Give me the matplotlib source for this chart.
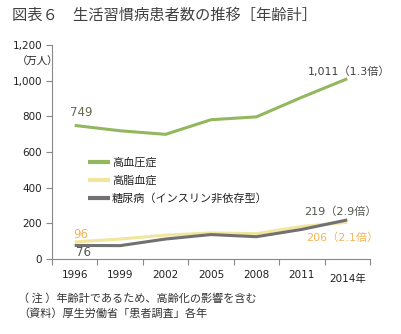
import numpy as np
import matplotlib
matplotlib.use("Agg")
import matplotlib.pyplot as plt

plt.rcParams['font.family'] = ['DejaVu Sans', 'Noto Sans CJK JP']

# データ（万人）
years = ['1996', '1999', '2002', '2005', '2008', '2011', '2014年']
hypertension = [749, 719, 699, 781, 797, 907, 1011]
hyperlipidemia = [96, 112, 134, 146, 142, 183, 206]
diabetes = [76, 75, 112, 137, 125, 166, 219]
series_names = ['高血圧症', '高脂血症', '糖尿病（インスリン非依存型）']
yticks = [0, 200, 400, 600, 800, 1000, 1200]

c_green = '#93b75f'
c_yellow = '#f1e69c'
c_gray = '#717171'
c_text = '#404040'
c_orange = '#f2b55a'

fig = plt.figure(figsize=(4.01, 3.34), dpi=100)
ax = fig.add_axes([52/401, 1-259/334, (370-52)/401, (259-45)/334])

x = np.arange(len(years))
ax.plot(x, hypertension, color=c_green, lw=2.2, label=series_names[0], solid_capstyle='butt')
ax.plot(x, hyperlipidemia, color=c_yellow, lw=2.2, label=series_names[1], solid_capstyle='butt')
ax.plot(x, diabetes, color=c_gray, lw=2.2, label=series_names[2], solid_capstyle='butt')

ax.set_xlim(-0.5, len(years) - 0.5)
ax.set_ylim(0, 1200)
ax.set_yticks(yticks)
ax.set_yticklabels([f"{v:,}" for v in yticks], fontsize=7.5, color='#222222')

# 区切り目盛りとカテゴリ中央のラベル
ax.set_xticks(np.arange(-0.5, len(years)), labels=[''] * (len(years) + 1))
ax.set_xticks(x, minor=True)
ax.set_xticklabels(years, minor=True, fontsize=7.5, color='#222222')
ax.tick_params(axis='x', which='minor', length=0, pad=8)
ax.tick_params(axis='x', which='major', length=4, color='#888888')
ax.tick_params(axis='y', length=4, color='#888888', pad=3)
for lab in ax.get_xticklabels(minor=True):
    if '年' in lab.get_text():
        lab.set_y(-0.02)

for s in ['top', 'right']:
    ax.spines[s].set_visible(False)
for s in ['left', 'bottom']:
    ax.spines[s].set_color('#888888')
    ax.spines[s].set_linewidth(0.8)

# データラベル
ax.annotate('749', (0, hypertension[0]), xytext=(5, 9.5), textcoords='offset points',
            ha='center', va='center', fontsize=8.5, color='#5f6b48')
ax.annotate('1,011（1.3倍）', (6, hypertension[6]), xytext=(1, 5), textcoords='offset points',
            ha='center', va='center', fontsize=8, color=c_text)
ax.annotate('219（2.9倍）', (6, diabetes[6]), xytext=(-5, 6), textcoords='offset points',
            ha='center', va='center', fontsize=8, color='#505a50')
ax.annotate('206（2.1倍）', (6, hyperlipidemia[6]), xytext=(-3.6, -11), textcoords='offset points',
            ha='center', va='center', fontsize=8, color=c_orange)
ax.annotate('96', (0, hyperlipidemia[0]), xytext=(4.7, 5), textcoords='offset points',
            ha='center', va='center', fontsize=8.5, color=c_orange)
ax.annotate('76', (0, diabetes[0]), xytext=(6.5, -5), textcoords='offset points',
            ha='center', va='center', fontsize=8.5, color='#505a50')

leg = ax.legend(loc='upper left', bbox_to_anchor=(88/401, 1-157/334), bbox_transform=fig.transFigure,
                frameon=False, fontsize=8, handlelength=2.0, handletextpad=0.15,
                labelspacing=0.7, borderpad=0, borderaxespad=0)
for line in leg.get_lines():
    line.set_linewidth(3)
for t in leg.get_texts():
    t.set_color('#222222')

fig.text(12/401, 1-15/334, '図表６　生活習慣病患者数の推移［年齢計］', fontsize=11,
         family=['Noto Sans CJK JP'], color=c_text, va='center', ha='left')
fig.text(38/401, 1-62/334, '（万人）', fontsize=7.5, color='#222222', ha='center', va='center',
         family=['Noto Sans CJK JP'])
fig.text(18/401, 1-298/334, '（ 注 ）年齢計であるため、高齢化の影響を含む', fontsize=8,
         family=['Noto Sans CJK JP'], color='#333333', va='center')
fig.text(18/401, 1-314/334, '（資料）厚生労働省「患者調査」各年', fontsize=8,
         family=['Noto Sans CJK JP'], color='#333333', va='center')

fig.savefig('out.png', dpi=100)
